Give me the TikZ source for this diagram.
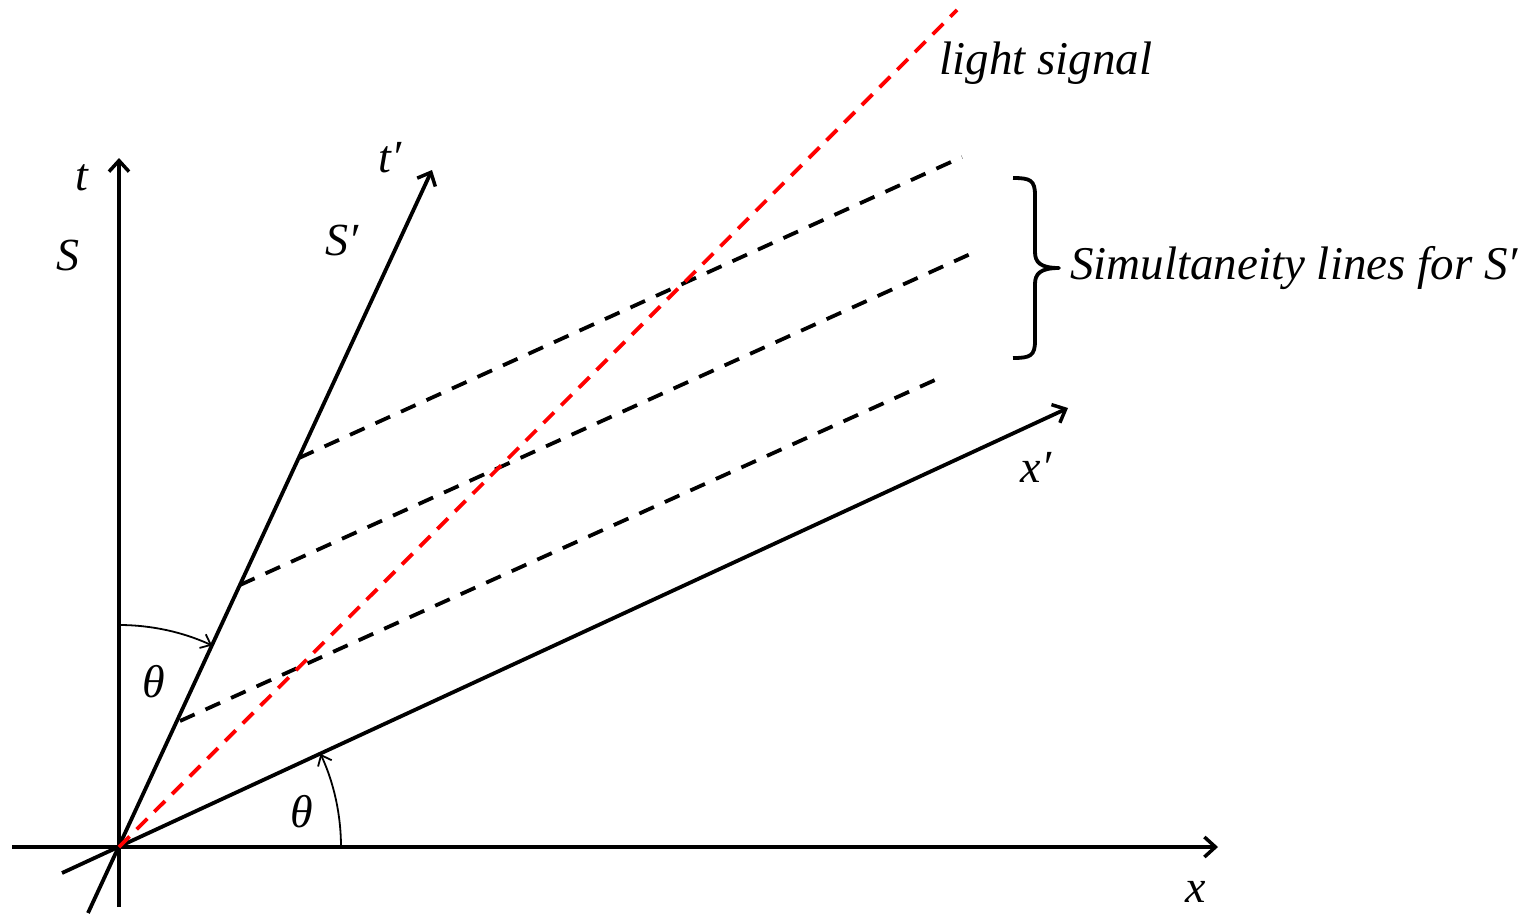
\documentclass[tikz,border=0pt]{standalone}
\usepackage{fontspec}
\setmainfont{Liberation Serif}
\usetikzlibrary{arrows.meta}
\begin{document}
\begin{tikzpicture}[x=1pt,y=-1pt,
  axis/.style={line width=3.8pt,-{Straight Barb[length=11pt,width=20pt,line width=3.5pt]}},
  simline/.style={line width=3.8pt,dash pattern=on 16pt off 12pt},
  lightline/.style={line width=3.8pt,red,dash pattern=on 15pt off 10pt},
  anglearc/.style={line width=1.8pt,-{Straight Barb[length=9pt,width=15pt,line width=1.8pt]}},
  bracestyle/.style={line width=3.8pt,line join=round},
  lab/.style={font=\fontsize{46}{50}\selectfont\itshape,inner sep=0pt},
  biglab/.style={font=\fontsize{47}{50}\selectfont\itshape,inner sep=0pt}]
\useasboundingbox (0,0) rectangle (1526,913);
% key points
\coordinate (O) at (119,847);
\coordinate (xs) at (12,847);
\coordinate (xe) at (1218,847);
\coordinate (ts) at (119,907);
\coordinate (te) at (119,158);
\coordinate (tps) at (88,913);
\coordinate (tpe) at (432,170);
\coordinate (xps) at (62,873);
\coordinate (xpe) at (1068,408);
\coordinate (le) at (957,10);
\coordinate (s1a) at (299,458);
\coordinate (s1b) at (962,157);
\coordinate (s2a) at (240,585);
\coordinate (s2b) at (977,251);
\coordinate (s3a) at (180,721);
\coordinate (s3b) at (935,380);
% axes
\draw[axis] (xs) -- (xe);
\draw[axis] (ts) -- (te);
\draw[axis] (tps) -- (tpe);
\draw[axis] (xps) -- (xpe);
% simultaneity lines
\draw[simline] (s1a) -- (s1b);
\draw[simline] (s2a) -- (s2b);
\draw[simline] (s3a) -- (s3b);
% light signal
\draw[lightline] (O) -- (le);
% angle arcs
\draw[anglearc] ([shift={(0,-222)}]O) arc[start angle=-90,end angle=-65.2,radius=222];
\draw[anglearc] ([shift={(222,0)}]O) arc[start angle=0,end angle=-24.8,radius=222];
% brace
\coordinate (b1) at (1013,178);
\coordinate (btip) at (1059,268);
\coordinate (b2) at (1013,358);
\draw[bracestyle] (b1) .. controls (1030,178) and (1035,180) .. (1035,195)
  -- (1035,252) .. controls (1035,262) and (1040,268) .. (btip)
  .. controls (1040,268) and (1035,274) .. (1035,284)
  -- (1035,341) .. controls (1035,356) and (1030,358) .. (b2);
% labels
\node[lab] (lt) at (82,178) {t};
\node[lab] (lS) at (68,255) {S};
\node[lab] (ltp) at (390,158) {t′};
\node[lab] (lSp) at (342,240) {S′};
\node[lab] (th1) at (154,682) {θ};
\node[lab] (th2) at (302,812) {θ};
\node[lab] (lxp) at (1036,467) {x′};
\node[lab] (lx) at (1196,892) {x};
\node[biglab] (lls) at (1046,63) {light signal};
\node[biglab,anchor=west] (lsim) at (1070,268) {Simultaneity lines for S′};
\end{tikzpicture}
\end{document}
